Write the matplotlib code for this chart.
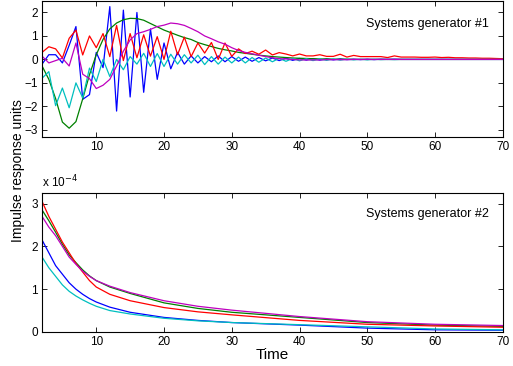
import numpy as np
import matplotlib
matplotlib.use("Agg")
import matplotlib.pyplot as plt

plt.rcParams['font.family'] = ['Liberation Sans', 'DejaVu Sans']

# time axis (samples 2..70)
t = np.arange(2, 71)

# Systems generator #1 - impulse responses
blue1 = [-0.2, 0.2, 0.2, -0.15, 0.6, 1.4, -1.7, -1.5, 0.3, -0.35,
         2.25, -2.2, 2.1, -1.6, 2.0, -1.4, 1.3, -0.85, 0.7, -0.4,
         0.3, -0.2, 0.15, -0.15, 0.12, -0.1, 0.15, -0.1, 0.12, -0.08,
         0.1, -0.08, 0.08, -0.06, 0.06, -0.05, 0.05, -0.04, 0.04, -0.03,
         0.03, -0.03, 0.02, -0.02, 0.02, -0.01, 0.01, -0.01, 0.01, -0.01,
         0.01, 0.0, 0.01, 0.0, 0.0, 0.0, 0.0, 0.0, 0.0, 0.0,
         0.0, 0.0, 0.0, 0.0, 0.0, 0.0, 0.0, 0.0, 0.0]
cyan1 = [-0.8, -0.52, -1.97, -1.22, -2.06, -1.0, -1.64, -0.37, -0.94, 0.0,
         -0.73, 0.0, -0.44, 0.12, -0.2, 0.26, -0.3, 0.25, -0.3, 0.22,
         -0.2, 0.2, -0.15, 0.18, -0.22, 0.12, -0.2, 0.1, -0.15, 0.1,
         -0.15, 0.08, -0.12, 0.06, -0.1, 0.05, -0.08, 0.04, -0.06, 0.03,
         -0.05, 0.02, -0.04, 0.02, -0.03, 0.01, -0.02, 0.01, -0.02, 0.01,
         -0.01, 0.0, -0.01, 0.0, 0.0, 0.0, 0.0, 0.0, 0.0, 0.0,
         0.0, 0.0, 0.0, 0.0, 0.0, 0.0, 0.0, 0.0, 0.0]
red1 = [0.3, 0.54, 0.45, 0.06, 0.9, 1.25, 0.19, 1.0, 0.5, 1.1,
        0.12, 1.45, -0.05, 1.1, 0.07, 1.05, 0.14, 0.97, 0.0, 1.2,
        0.2, 0.95, 0.12, 0.7, 0.27, 0.72, 0.0, 0.7, 0.13, 0.45,
        0.25, 0.35, 0.22, 0.4, 0.19, 0.29, 0.23, 0.15, 0.23, 0.15,
        0.15, 0.2, 0.13, 0.13, 0.22, 0.1, 0.17, 0.12, 0.12, 0.12,
        0.12, 0.08, 0.15, 0.1, 0.1, 0.1, 0.09, 0.09, 0.1, 0.08,
        0.09, 0.07, 0.07, 0.06, 0.06, 0.05, 0.05, 0.04, 0.03]
green1 = [-0.28, -0.85, -1.67, -2.67, -2.93, -2.65, -1.68, -0.65, 0.2, 0.85,
          1.3, 1.55, 1.69, 1.75, 1.74, 1.67, 1.53, 1.39, 1.25, 1.14,
          1.03, 0.93, 0.85, 0.72, 0.63, 0.55, 0.47, 0.41, 0.36, 0.3,
          0.26, 0.22, 0.18, 0.15, 0.12, 0.1, 0.08, 0.06, 0.05, 0.04,
          0.03, 0.02, 0.02, 0.01, 0.01, 0.01, 0.0, 0.0, 0.0, 0.0,
          0.0, 0.0, 0.0, 0.0, 0.0, 0.0, 0.0, 0.0, 0.0, 0.0,
          0.0, 0.0, 0.0, 0.0, 0.0, 0.0, 0.0, 0.0, 0.0]
magenta1 = [0.14, -0.15, -0.05, 0.05, -0.28, 0.7, -0.63, -0.82, -1.24, -1.1,
            -0.85, -0.28, 0.35, 0.83, 1.1, 1.18, 1.28, 1.4, 1.46, 1.55,
            1.52, 1.45, 1.32, 1.18, 1.0, 0.88, 0.75, 0.65, 0.5, 0.38,
            0.3, 0.24, 0.18, 0.12, 0.07, 0.03, 0.02, 0.0, -0.02, -0.02,
            -0.02, -0.02, -0.01, -0.01, -0.01, -0.01, 0.0, 0.0, 0.0, 0.0,
            0.0, 0.0, 0.0, 0.0, 0.0, 0.0, 0.0, 0.0, 0.0, 0.0,
            0.0, 0.0, 0.0, 0.0, 0.0, 0.0, 0.0, 0.0, 0.0]

# Systems generator #2 - impulse responses (x 1e-4)
t2 = [2, 3, 4, 5, 6, 7, 8, 9, 10, 12, 15, 20, 25, 30, 40, 50, 60, 70]
red2 = [3.05, 2.7, 2.4, 2.1, 1.85, 1.6, 1.4, 1.2, 1.05, 0.88, 0.73, 0.57,
        0.47, 0.4, 0.27, 0.18, 0.14, 0.11]
green2 = [2.85, 2.6, 2.33, 2.05, 1.8, 1.62, 1.45, 1.31, 1.2, 1.05, 0.9, 0.68,
          0.55, 0.46, 0.34, 0.22, 0.16, 0.13]
magenta2 = [2.7, 2.45, 2.25, 2.0, 1.75, 1.58, 1.42, 1.3, 1.2, 1.07, 0.92, 0.73,
            0.6, 0.51, 0.36, 0.24, 0.18, 0.15]
blue2 = [2.15, 1.85, 1.55, 1.35, 1.15, 1.0, 0.88, 0.78, 0.7, 0.58, 0.46, 0.34,
         0.27, 0.22, 0.16, 0.09, 0.05, 0.04]
cyan2 = [1.75, 1.5, 1.3, 1.1, 0.95, 0.84, 0.75, 0.67, 0.6, 0.5, 0.42, 0.32,
         0.26, 0.22, 0.17, 0.12, 0.07, 0.05]

colors = {"blue": (0, 0, 1), "green": (0, 0.5, 0), "red": (1, 0, 0),
          "cyan": (0, 0.75, 0.75), "magenta": (0.75, 0, 0.75)}

fig = plt.figure(figsize=(5.13, 3.66), dpi=100)
ax1 = fig.add_axes([0.082, 0.626, 0.898, 0.372])
ax2 = fig.add_axes([0.082, 0.093, 0.898, 0.380])

lw = 0.9
for name, y in [("blue", blue1), ("green", green1), ("red", red1),
                ("cyan", cyan1), ("magenta", magenta1)]:
    ax1.plot(t, y, color=colors[name], lw=lw)

for name, y in [("blue", blue2), ("green", green2), ("red", red2),
                ("cyan", cyan2), ("magenta", magenta2)]:
    ax2.plot(t2, y, color=colors[name], lw=lw)

ax1.set_xlim(2, 70)
ax1.set_ylim(-3.3, 2.5)
ax1.set_yticks([-3, -2, -1, 0, 1, 2])
ax2.set_xlim(2, 70)
ax2.set_ylim(0, 3.25)
ax2.set_yticks([0, 1, 2, 3])

for ax in (ax1, ax2):
    ax.set_xticks([10, 20, 30, 40, 50, 60, 70])
    ax.tick_params(direction='in', top=True, right=True, length=3.5,
                   width=0.6, labelsize=8.5, pad=3)
    for s in ax.spines.values():
        s.set_linewidth(0.8)

ax1.text(0.97, 0.83, "Systems generator #1", transform=ax1.transAxes,
         ha='right', va='center', fontsize=9)
ax2.text(0.97, 0.85, "Systems generator #2", transform=ax2.transAxes,
         ha='right', va='center', fontsize=9)
ax2.text(0.0, 1.02, r"x 10$^{-4}$", transform=ax2.transAxes,
         ha='left', va='bottom', fontsize=8.5)

fig.text(0.035, 0.535, "Impulse response units", rotation=90,
         ha='center', va='center', fontsize=10)
ax2.set_xlabel("Time", fontsize=11, labelpad=0)

fig.savefig("out.png", dpi=100)
